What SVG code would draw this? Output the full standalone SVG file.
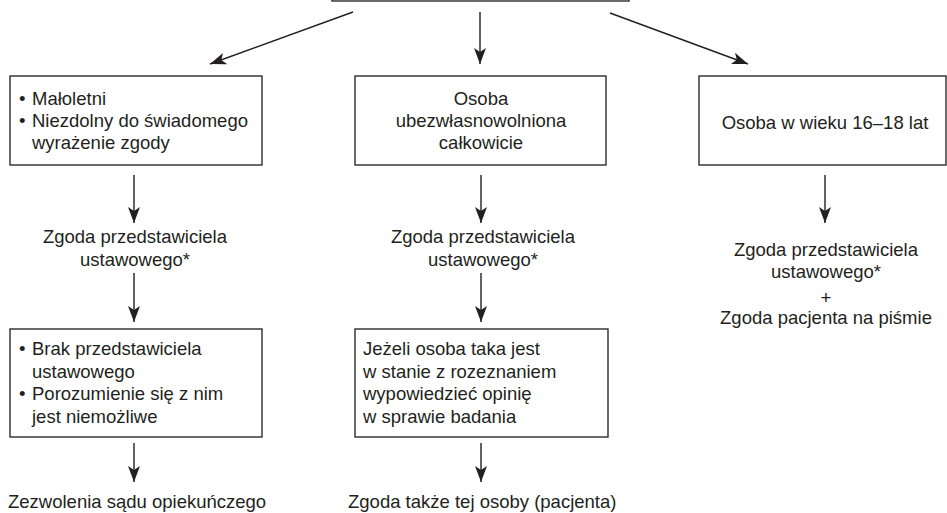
<svg xmlns="http://www.w3.org/2000/svg" width="947" height="513" viewBox="0 0 947 513">
<defs>
<style>
.box{fill:#fff;stroke:#2b2b2b;stroke-width:1.4}
.t{font-family:"Liberation Sans",Arial,Helvetica,sans-serif;font-size:18.5px;fill:#231f20}
.c{text-anchor:middle}
.ln{fill:none;stroke:#231f20;stroke-width:1.4}
</style>
<marker id="ah" markerUnits="userSpaceOnUse" markerWidth="18" markerHeight="14" refX="16" refY="7" orient="auto" viewBox="0 0 18 14">
<path d="M0,1 L16,7 L0,13 L4,7 Z" fill="#231f20"/>
</marker>
</defs>
<rect width="947" height="513" fill="#fff"/>

<g id="top">
<rect class="box" x="332" y="-50" width="297" height="51"/>
</g>

<g id="connectors">
<line class="ln" x1="353" y1="12" x2="210" y2="64" marker-end="url(#ah)"/>
<line class="ln" x1="480" y1="12" x2="480" y2="64" marker-end="url(#ah)"/>
<line class="ln" x1="610" y1="13" x2="748" y2="64" marker-end="url(#ah)"/>
<line class="ln" x1="134" y1="175" x2="134" y2="223" marker-end="url(#ah)"/>
<line class="ln" x1="134" y1="273" x2="134" y2="322" marker-end="url(#ah)"/>
<line class="ln" x1="134" y1="443" x2="134" y2="482" marker-end="url(#ah)"/>
<line class="ln" x1="481" y1="175" x2="481" y2="223" marker-end="url(#ah)"/>
<line class="ln" x1="481" y1="273" x2="481" y2="322" marker-end="url(#ah)"/>
<line class="ln" x1="481" y1="443" x2="481" y2="482" marker-end="url(#ah)"/>
<line class="ln" x1="825" y1="175" x2="825" y2="223" marker-end="url(#ah)"/>
</g>

<g id="box-maloletni">
<rect class="box" x="10" y="76" width="252" height="89"/>
<text class="t" x="19" y="105">•</text><text class="t" x="32" y="105">Małoletni</text>
<text class="t" x="19" y="127">•</text><text class="t" x="32" y="127">Niezdolny do świadomego</text>
<text class="t" x="32" y="149">wyrażenie zgody</text>
</g>

<g id="box-ubezwlasnowolniona">
<rect class="box" x="355" y="76" width="251" height="89"/>
<text class="t c" x="481" y="105">Osoba</text>
<text class="t c" x="481" y="127">ubezwłasnowolniona</text>
<text class="t c" x="481" y="149">całkowicie</text>
</g>

<g id="box-16-18">
<rect class="box" x="699" y="76" width="247" height="89"/>
<text class="t c" x="825" y="129">Osoba w wieku 16–18 lat</text>
</g>

<g id="zgoda-left">
<text class="t c" x="135" y="243">Zgoda przedstawiciela</text>
<text class="t c" x="135" y="266">ustawowego*</text>
</g>

<g id="zgoda-middle">
<text class="t c" x="483" y="243">Zgoda przedstawiciela</text>
<text class="t c" x="483" y="266">ustawowego*</text>
</g>

<g id="zgoda-right">
<text class="t c" x="826" y="256">Zgoda przedstawiciela</text>
<text class="t c" x="826" y="278">ustawowego*</text>
<text class="t c" x="826" y="304">+</text>
<text class="t c" x="826" y="324">Zgoda pacjenta na piśmie</text>
</g>

<g id="box-brak">
<rect class="box" x="10" y="329" width="252" height="108"/>
<text class="t" x="19" y="355">•</text><text class="t" x="32" y="355">Brak przedstawiciela</text>
<text class="t" x="32" y="377.5">ustawowego</text>
<text class="t" x="19" y="400">•</text><text class="t" x="32" y="400">Porozumienie się z nim</text>
<text class="t" x="32" y="422.5">jest niemożliwe</text>
</g>

<g id="box-jezeli">
<rect class="box" x="355" y="329" width="253" height="108"/>
<text class="t" x="363" y="355">Jeżeli osoba taka jest</text>
<text class="t" x="363" y="377.5">w stanie z rozeznaniem</text>
<text class="t" x="363" y="400">wypowiedzieć opinię</text>
<text class="t" x="363" y="422.5">w sprawie badania</text>
</g>

<g id="zezwolenie">
<text class="t" x="8" y="508">Zezwolenia sądu opiekuńczego</text>
</g>

<g id="zgoda-pacjenta">
<text class="t" x="348" y="508">Zgoda także tej osoby (pacjenta)</text>
</g>
</svg>
